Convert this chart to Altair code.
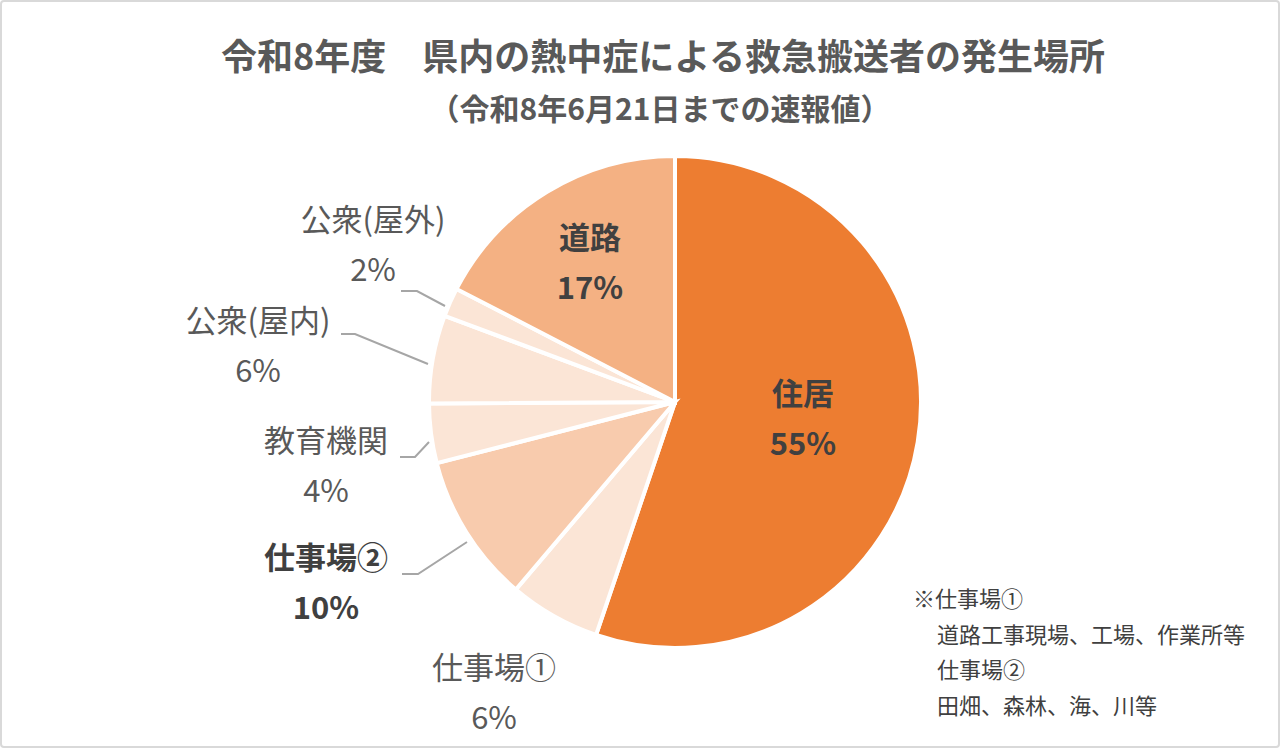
import altair as alt
import pandas as pd

# ---- data ----
categories = ["住居", "仕事場①", "仕事場②", "教育機関", "公衆(屋内)", "公衆(屋外)", "道路"]
shares = [55.2, 6.0, 9.8, 3.9, 5.8, 1.9, 17.4]
pct_labels = ["55%", "6%", "10%", "4%", "6%", "2%", "17%"]
colors = ["#ED7D31", "#FBE5D6", "#F8CBAD", "#FBE5D6", "#FBE5D6", "#FBE5D6", "#F4B183"]
bold_flags = [True, False, True, False, False, False, True]

title_text = "令和8年度\u3000県内の熱中症による救急搬送者の発生場所"
subtitle_text = "（令和8年6月21日までの速報値）"
note_lines = ["※仕事場①", "道路工事現場、工場、作業所等", "仕事場②", "田畑、森林、海、川等"]

# ---- layout (pixels) ----
W, H = 1280, 748
CX, CY, R = 675, 402, 246
FONT = "Noto Sans CJK JP"
label_pos = {
    "住居": (803, 396),
    "道路": (590, 240),
    "公衆(屋外)": (373, 222),
    "公衆(屋内)": (258, 323),
    "教育機関": (326, 443),
    "仕事場②": (326, 560),
    "仕事場①": (494, 670),
}
line_gap = 50
leaders = {
    "公衆(屋外)": [(401, 291), (417, 291), (445, 306)],
    "公衆(屋内)": [(341, 334), (355, 334), (428, 364)],
    "教育機関": [(400, 457), (415, 457), (429, 442)],
    "仕事場②": [(402, 574), (418, 574), (467, 542)],
}
note_x = [913, 937, 937, 937]
note_y = [600, 636, 671, 707]

pie_df = pd.DataFrame({"cat": categories, "share": shares, "idx": list(range(len(categories)))})

pie = alt.Chart(pie_df).mark_arc(radius=R, stroke="white", strokeWidth=4).encode(
    theta=alt.Theta("share:Q", stack=True),
    order=alt.Order("idx:Q"),
    color=alt.Color("cat:N", scale=alt.Scale(domain=categories, range=colors), legend=None),
    x=alt.value(CX),
    y=alt.value(CY),
)

rows = []
for c, p, b in zip(categories, pct_labels, bold_flags):
    x, y = label_pos[c]
    rows.append({"t": c, "x": x, "y": y, "bold": b})
    rows.append({"t": p, "x": x, "y": y + line_gap, "bold": b})
lab_df = pd.DataFrame(rows)

def text_layer(df, weight, color):
    return alt.Chart(df).mark_text(
        font=FONT, fontSize=31, fontWeight=weight, color=color, align="center", baseline="middle"
    ).encode(
        x=alt.X("x:Q", scale=None, axis=None),
        y=alt.Y("y:Q", scale=None, axis=None),
        text="t:N",
    )

lab_bold = text_layer(lab_df[lab_df["bold"]], "bold", "#404040")
lab_norm = text_layer(lab_df[~lab_df["bold"]], "normal", "#595959")

lead_rows = []
for c, pts in leaders.items():
    for i, (x, y) in enumerate(pts):
        lead_rows.append({"cat": c, "o": i, "x": x, "y": y})
lead_df = pd.DataFrame(lead_rows)
lead = alt.Chart(lead_df).mark_line(color="#A6A6A6", strokeWidth=2).encode(
    x=alt.X("x:Q", scale=None, axis=None),
    y=alt.Y("y:Q", scale=None, axis=None),
    detail="cat:N",
    order="o:Q",
)

title_df = pd.DataFrame({"t": [title_text], "x": [663], "y": [59]})
title = alt.Chart(title_df).mark_text(
    font=FONT, fontSize=36, fontWeight="bold", color="#595959", align="center", baseline="middle"
).encode(x=alt.X("x:Q", scale=None, axis=None), y=alt.Y("y:Q", scale=None, axis=None), text="t:N")

sub_df = pd.DataFrame({"t": [subtitle_text], "x": [660], "y": [111]})
sub = alt.Chart(sub_df).mark_text(
    font=FONT, fontSize=30, fontWeight="bold", color="#595959", align="center", baseline="middle"
).encode(x=alt.X("x:Q", scale=None, axis=None), y=alt.Y("y:Q", scale=None, axis=None), text="t:N")

note_df = pd.DataFrame({"t": note_lines, "x": note_x, "y": note_y})
note = alt.Chart(note_df).mark_text(
    font=FONT, fontSize=22, color="#404040", align="left", baseline="middle"
).encode(x=alt.X("x:Q", scale=None, axis=None), y=alt.Y("y:Q", scale=None, axis=None), text="t:N")

border = alt.Chart(pd.DataFrame({"a": [0]})).mark_rect(
    fill="white", fillOpacity=0, stroke="#D9D9D9", strokeWidth=2, cornerRadius=3
).encode(x=alt.value(1), x2=alt.value(W - 1), y=alt.value(1), y2=alt.value(H - 1))

chart = alt.layer(border, pie, lead, lab_norm, lab_bold, title, sub, note).properties(
    width=W, height=H, padding=0, autosize=alt.AutoSizeParams(type="none"), background="white"
).configure_view(stroke=None)

chart.save("out.html", embed_options={"renderer": "svg", "actions": False})
